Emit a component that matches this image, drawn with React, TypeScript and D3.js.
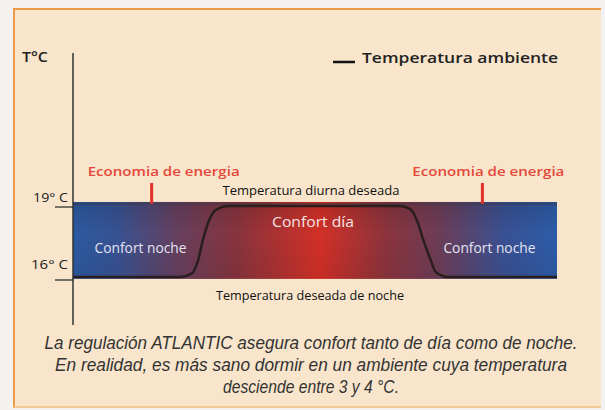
import React from "react";
import * as d3 from "d3";

const hours = [0, 5.3, 5.9, 6.2, 6.45, 6.75, 7.1, 7.7, 16.2, 16.75, 17.05, 17.36, 17.7, 18.0, 18.6, 24];
const temps = [16, 16, 16.15, 16.7, 17.6, 18.4, 18.85, 19, 19, 18.85, 18.4, 17.6, 16.8, 16.2, 16, 16];
const bandRange = [15.92, 19.17];
const yTicks = [19, 16];
const yTickLabels = ["19° C", "16° C"];
const savingHours = [3.9, 20.3];
const nightLabelHours = [3.35, 20.65];
const captionLines = [
  "La regulación ATLANTIC asegura confort tanto de día como de noche.",
  "En realidad, es más sano dormir en un ambiente cuya temperatura",
  "desciende entre 3 y 4 °C.",
];

export default function App() {
  const W = 605, H = 410;
  const x = d3.scaleLinear().domain([0, 24]).range([73, 557]);
  const y = d3.scaleLinear().domain([16, 19]).range([277, 206]);
  const pts = hours.map((h, i) => [h, temps[i]] as [number, number]);
  const line = d3.line<[number, number]>().x(d => x(d[0])).y(d => y(d[1])).curve(d3.curveMonotoneX);
  const font = "'Open Sans', 'Lato', sans-serif";
  const capW = [533, 512, 176];
  return (
    <svg width={W} height={H} style={{ position: "absolute", left: 0, top: 0, background: "#f4f2f0" }}>
      <defs>
        <linearGradient id="band" x1="0" x2="1" y1="0" y2="0">
          <stop offset="0%" stopColor="#2d5ea8" />
          <stop offset="9%" stopColor="#3a5598" />
          <stop offset="22%" stopColor="#6c4260" />
          <stop offset="34%" stopColor="#8e3640" />
          <stop offset="51%" stopColor="#dc3228" />
          <stop offset="65%" stopColor="#903640" />
          <stop offset="76%" stopColor="#70405c" />
          <stop offset="89%" stopColor="#3c5499" />
          <stop offset="100%" stopColor="#2e60b0" />
        </linearGradient>
        <linearGradient id="shade" x1="0" x2="0" y1="0" y2="1">
          <stop offset="0%" stopColor="#000" stopOpacity="0.16" />
          <stop offset="40%" stopColor="#000" stopOpacity="0.04" />
          <stop offset="100%" stopColor="#000" stopOpacity="0.1" />
        </linearGradient>
      </defs>
      <rect x={13} y={8} width={588} height={400} fill="#f8e5cb" />
      <line x1={13} x2={601} y1={9} y2={9} stroke="#ee9a48" strokeWidth={2} />
      <line x1={14} x2={14} y1={8} y2={408} stroke="#ee9a48" strokeWidth={2} />
      <line x1={13} x2={601} y1={407} y2={407} stroke="#f2c08a" strokeWidth={1.5} />

      <text x={22} y={62} fontFamily={font} fontSize={14} fontWeight={600} fill="#222" textLength={26} lengthAdjust="spacingAndGlyphs">T°C</text>
      <line x1={333} x2={355} y1={62} y2={62} stroke="#111" strokeWidth={2.5} />
      <text x={362} y={63} fontFamily={font} fontSize={15} fontWeight={600} fill="#222" textLength={196} lengthAdjust="spacingAndGlyphs">Temperatura ambiente</text>

      <rect x={x(0)} y={y(bandRange[1])} width={x(24) - x(0)} height={y(bandRange[0]) - y(bandRange[1])} fill="url(#band)" />
      <rect x={x(0)} y={y(bandRange[1])} width={x(24) - x(0)} height={y(bandRange[0]) - y(bandRange[1])} fill="url(#shade)" />
      <line x1={x(0)} x2={x(24)} y1={y(bandRange[1]) + 2} y2={y(bandRange[1]) + 2} stroke="#3a3a48" strokeOpacity={0.5} strokeWidth={2} />
      <path d={line(pts) || ""} fill="none" stroke="#2a1e1e" strokeWidth={2.5} />

      <line x1={73} x2={73} y1={53} y2={325} stroke="#333" strokeWidth={1.5} />
      {yTicks.map((t, i) => (
        <g key={t}>
          <line x1={55} x2={73} y1={y(t) + (i === 1 ? 3 : 1)} y2={y(t) + (i === 1 ? 3 : 1)} stroke="#222" strokeWidth={1.2} />
          <text x={i === 0 ? 33 : 31} y={y(t) - 4 + (i === 1 ? -4 : 0)} fontFamily={font} fontSize={13} fill="#222" textLength={i === 0 ? 35 : 37} lengthAdjust="spacingAndGlyphs">{yTickLabels[i]}</text>
        </g>
      ))}

      {savingHours.map((h, i) => (
        <g key={i}>
          <line x1={x(h)} x2={x(h)} y1={183} y2={204} stroke="#e0302a" strokeWidth={3} />
          <text x={x(h) + (i === 0 ? 12 : 6)} y={176} textAnchor="middle" fontFamily={font} fontSize={13} fontWeight={600} fill="#e5483a" textLength={152} lengthAdjust="spacingAndGlyphs">Economia de energia</text>
        </g>
      ))}

      <text x={311} y={195} textAnchor="middle" fontFamily={font} fontSize={13} fill="#111" textLength={177} lengthAdjust="spacingAndGlyphs">Temperatura diurna deseada</text>
      <text x={313} y={227} textAnchor="middle" fontFamily={font} fontSize={14} fill="#f4e4e4" textLength={82} lengthAdjust="spacingAndGlyphs">Confort día</text>
      {nightLabelHours.map((h, i) => (
        <text key={i} x={x(h)} y={253} textAnchor="middle" fontFamily={font} fontSize={14} fill="#e4e4f4" textLength={92} lengthAdjust="spacingAndGlyphs">Confort noche</text>
      ))}
      <text x={310} y={300} textAnchor="middle" fontFamily={font} fontSize={13} fill="#111" textLength={188} lengthAdjust="spacingAndGlyphs">Temperatura deseada de noche</text>

      {captionLines.map((l, i) => (
        <text key={i} x={311} y={349 + i * 22} textAnchor="middle" fontFamily="'Liberation Sans Narrow', 'Liberation Sans', sans-serif" fontStyle="italic" fontSize={17.5} fill="#333" textLength={capW[i]} lengthAdjust="spacingAndGlyphs">{l}</text>
      ))}
    </svg>
  );
}
